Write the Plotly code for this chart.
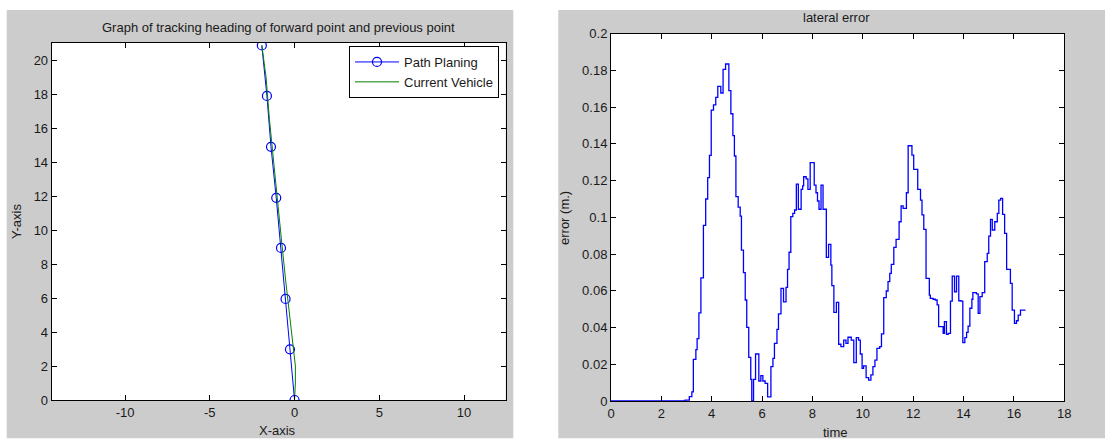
import plotly.graph_objects as go

# ---------------- data ----------------
# Left panel: path planning points and vehicle track
path_x = [0.0, -0.27, -0.53, -0.80, -1.08, -1.39, -1.63, -1.93]
path_y = [0.0, 2.98, 5.95, 8.95, 11.90, 14.90, 17.90, 20.87]

vehicle_x = [0.0, 0.05, 0.05, -0.12, -0.33, -0.52, -0.78, -1.03, -1.28, -1.48, -1.68, -1.84, -1.93]
vehicle_y = [0.0, 1.0, 2.0, 3.5, 5.0, 7.0, 9.5, 12.0, 14.5, 16.5, 19.0, 20.4, 20.87]

# Right panel: lateral error (step starts)
err_time = [0.0, 2.94, 3.11, 3.21, 3.27, 3.37, 3.42, 3.49, 3.57, 3.67, 3.76, 3.84, 3.91, 3.98,
            4.07, 4.16, 4.24, 4.36, 4.45, 4.55, 4.68, 4.76, 4.84, 4.90, 4.96, 5.05, 5.13,
            5.18, 5.26, 5.33, 5.39, 5.47, 5.55, 5.59, 5.66, 5.74, 5.87, 5.95, 6.03, 6.12,
            6.22, 6.35, 6.43, 6.49, 6.59, 6.65, 6.75, 6.85, 6.95, 7.01, 7.07, 7.14, 7.22,
            7.29, 7.36, 7.44, 7.55, 7.61, 7.65, 7.75, 7.82, 7.91, 8.07, 8.14, 8.20, 8.26,
            8.34, 8.42, 8.55, 8.64, 8.73, 8.77, 8.85, 8.95, 9.04, 9.13, 9.24, 9.33, 9.41,
            9.54, 9.64, 9.74, 9.83, 9.90, 9.97, 10.03, 10.13, 10.23, 10.32, 10.40, 10.48,
            10.56, 10.67, 10.74, 10.83, 10.93, 11.00, 11.07, 11.13, 11.23, 11.32, 11.44,
            11.52, 11.60, 11.73, 11.80, 11.95, 12.02, 12.18, 12.29, 12.35, 12.42, 12.51,
            12.64, 12.68, 12.79, 12.88, 12.95, 13.01, 13.19, 13.24, 13.32, 13.39, 13.48,
            13.55, 13.64, 13.72, 13.81, 13.90, 13.97, 14.05, 14.12, 14.18, 14.25, 14.33,
            14.37, 14.51, 14.58, 14.65, 14.74, 14.84, 14.94, 15.00, 15.07, 15.14, 15.24,
            15.34, 15.40, 15.47, 15.55, 15.63, 15.71, 15.86, 15.93, 16.02, 16.10, 16.17,
            16.26, 16.46]
err_value = [0.0, 0.0005, 0.0024, 0.005, 0.0227, 0.028, 0.034, 0.048, 0.067, 0.0956, 0.110,
             0.1216, 0.1338, 0.1584, 0.1612, 0.1653, 0.1713, 0.1677, 0.1806, 0.1835, 0.169,
             0.1564, 0.1445, 0.1334, 0.1113, 0.1056, 0.1007, 0.0822, 0.0699, 0.055, 0.0401,
             0.0238, 0.0118, 0.0, 0.0118, 0.0256, 0.0109, 0.0138, 0.0109, 0.0096, 0.0022,
             0.0187, 0.0232, 0.0314, 0.039, 0.0474, 0.0613, 0.054, 0.0619, 0.0717, 0.081,
             0.1004, 0.1022, 0.104, 0.1181, 0.1044, 0.1152, 0.1171, 0.1221, 0.1209, 0.1152,
             0.1298, 0.1176, 0.1134, 0.1089, 0.1044, 0.1176, 0.1044, 0.0782, 0.0853, 0.074,
             0.0628, 0.0483, 0.0537, 0.0309, 0.0296, 0.0332, 0.0314, 0.0347, 0.0332, 0.0209,
             0.0345, 0.0332, 0.0256, 0.0178, 0.0191, 0.0127, 0.0114, 0.0142, 0.0187, 0.0223,
             0.0287, 0.0296, 0.0365, 0.0563, 0.0599, 0.065, 0.0695, 0.0744, 0.0837, 0.088,
             0.0976, 0.1062, 0.1049, 0.1134, 0.139, 0.1339, 0.1261, 0.1152, 0.1094, 0.1013,
             0.0935, 0.0668, 0.0577, 0.0559, 0.0554, 0.055, 0.0523, 0.0405, 0.0368, 0.0432,
             0.0363, 0.0368, 0.0544, 0.068, 0.0595, 0.068, 0.0546, 0.0544, 0.0318, 0.0345,
             0.0374, 0.0408, 0.0505, 0.0554, 0.059, 0.0583, 0.0477, 0.0568, 0.059, 0.0759,
             0.0804, 0.0898, 0.0989, 0.0931, 0.0976, 0.1022, 0.1094, 0.1103, 0.1016, 0.0913,
             0.0717, 0.0641, 0.0495, 0.0423, 0.0437, 0.0468, 0.0495, 0.0495]

# tick labels
left_xticks = [-10, -5, 0, 5, 10]
left_xticktext = ["-10", "-5", "0", "5", "10"]
left_yticks = [0, 2, 4, 6, 8, 10, 12, 14, 16, 18, 20]
right_xticks = [0, 2, 4, 6, 8, 10, 12, 14, 16, 18]
right_yticks = [0, 0.02, 0.04, 0.06, 0.08, 0.1, 0.12, 0.14, 0.16, 0.18, 0.2]
right_yticktext = ["0", "0.02", "0.04", "0.06", "0.08", "0.1", "0.12", "0.14", "0.16", "0.18", "0.2"]

left_title = "Graph of tracking heading of forward point and previous point"
right_title = "lateral error"

# ---------------- figure ----------------
W, H = 1105, 439
FONT = "Liberation Sans, Arial, sans-serif"
TXT = "#1a1a1a"
PANEL = "#cccccc"


def px(x):
    return x / W


def py(y):
    return 1 - y / H


fig = go.Figure()

fig.add_trace(go.Scatter(
    x=path_x, y=path_y, mode="lines+markers", name="Path Planing",
    line=dict(color="#0000ff", width=1),
    marker=dict(symbol="circle-open", size=9, color="#0000ff", line=dict(width=1.2)),
    xaxis="x", yaxis="y"))
fig.add_trace(go.Scatter(
    x=vehicle_x, y=vehicle_y, mode="lines", name="Current Vehicle",
    line=dict(color="#008000", width=1),
    xaxis="x", yaxis="y"))
fig.add_trace(go.Scatter(
    x=err_time, y=err_value, mode="lines", line_shape="hv", showlegend=False,
    line=dict(color="#0000ff", width=1.3),
    xaxis="x2", yaxis="y2"))

axis_common = dict(showgrid=False, zeroline=False, showline=True, linecolor="black",
                   linewidth=1, mirror="ticks", ticks="inside", ticklen=5,
                   tickcolor="black", automargin=False,
                   tickfont=dict(family=FONT, size=13, color=TXT))


def white_rect(x0, x1, y0, y1):
    return dict(type="rect", xref="paper", yref="paper", x0=px(x0), x1=px(x1),
                y0=py(y1), y1=py(y0), fillcolor="white", line=dict(width=0), layer="below")


fig.update_layout(
    width=W, height=H, margin=dict(l=0, r=0, t=0, b=0, autoexpand=False),
    paper_bgcolor=PANEL, plot_bgcolor="white",
    font=dict(family=FONT, size=13, color=TXT),
    xaxis=dict(domain=[px(51.7), px(505.7)], range=[-14.33, 12.46],
               tickmode="array", tickvals=left_xticks, ticktext=left_xticktext,
               anchor="y", **axis_common),
    yaxis=dict(domain=[py(400), py(42.7)], range=[0, 21.03],
               tickmode="array", tickvals=left_yticks, anchor="x", **axis_common),
    xaxis2=dict(domain=[px(611), px(1064.3)], range=[0, 18],
                tickmode="array", tickvals=right_xticks, anchor="y2", **axis_common),
    yaxis2=dict(domain=[py(401), py(33.7)], range=[0, 0.2],
                tickmode="array", tickvals=right_yticks, ticktext=right_yticktext,
                anchor="x2", **axis_common),
    legend=dict(x=px(499), y=py(46), xanchor="right", yanchor="top",
                bgcolor="white", bordercolor="black", borderwidth=1,
                font=dict(family=FONT, size=13, color=TXT), itemwidth=44,
                tracegroupgap=0),
    shapes=[
        white_rect(0, 6.7, 0, 439),
        white_rect(513.3, 558.3, 0, 439),
        white_rect(0, 1105, 0, 10),
        white_rect(0, 1105, 438.3, 439),
    ],
    annotations=[
        dict(text=left_title, xref="paper", yref="paper", x=px(278.5), y=py(27),
             showarrow=False, xanchor="center", yanchor="middle", font=dict(size=13)),
        dict(text=right_title, xref="paper", yref="paper", x=px(836), y=py(18),
             showarrow=False, xanchor="center", yanchor="middle", font=dict(size=13)),
        dict(text="X-axis", xref="paper", yref="paper", x=px(277), y=py(430),
             showarrow=False, xanchor="center", yanchor="middle", font=dict(size=13)),
        dict(text="Y-axis", xref="paper", yref="paper", x=px(16), y=py(222),
             showarrow=False, xanchor="center", yanchor="middle", textangle=-90,
             font=dict(size=13)),
        dict(text="time", xref="paper", yref="paper", x=px(835), y=py(432),
             showarrow=False, xanchor="center", yanchor="middle", font=dict(size=13)),
        dict(text="error (m.)", xref="paper", yref="paper", x=px(565), y=py(218),
             showarrow=False, xanchor="center", yanchor="middle", textangle=-90,
             font=dict(size=13)),
    ],
)

fig.write_html("out.html")
